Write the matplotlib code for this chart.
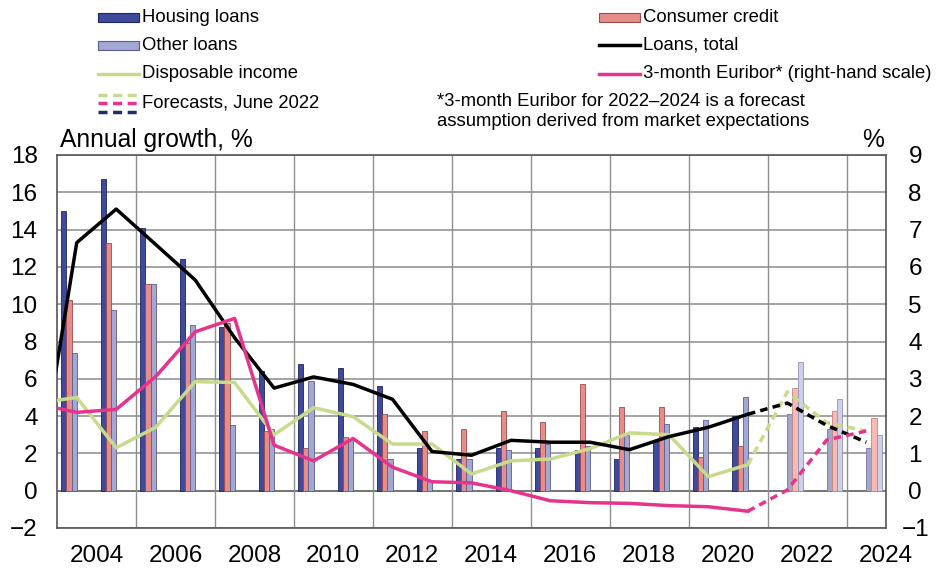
import numpy as np
import matplotlib.pyplot as plt
from matplotlib.patches import Rectangle
from matplotlib.lines import Line2D

plt.rcParams['font.family'] = ['Liberation Sans', 'DejaVu Sans']

# categories: 2004-2024, history up to 2021, forecasts 2022-2024
years = list(range(2004, 2025))
n_hist = 18

# bars, annual growth %
housing = [15.0, 16.7, 14.1, 12.4, 8.8, 6.4, 6.8, 6.6, 5.6, 2.3, 1.7, 2.3, 2.3, 2.2, 1.7, 2.6, 3.4, 4.0]
consumer = [10.2, 13.3, 11.1, 7.9, 9.0, 3.2, 2.3, 2.9, 4.1, 3.2, 3.3, 4.3, 3.7, 5.7, 4.5, 4.5, 1.8, 2.4]
other = [7.4, 9.7, 11.1, 8.9, 3.5, 3.3, 5.9, 2.7, 1.7, 0.6, 1.7, 2.2, 2.5, 2.4, 3.0, 3.6, 3.8, 5.0]
housing_fc = [4.1, 3.3, 2.3]
consumer_fc = [5.5, 4.3, 3.9]
other_fc = [6.9, 4.9, 3.0]

# lines, 2003-2021 (the 2003 point falls outside the axis)
loans_total = [0.3, 13.3, 15.1, 13.2, 11.3, 8.2, 5.5, 6.1, 5.7, 4.9, 2.1, 1.9, 2.7, 2.6, 2.6, 2.2, 2.9, 3.4, 4.1]
disp_income = [4.7, 5.0, 2.3, 3.4, 5.85, 5.8, 3.0, 4.45, 3.97, 2.5, 2.5, 0.9, 1.6, 1.7, 2.25, 3.1, 3.0, 0.75, 1.4]
euribor = [2.33, 2.10, 2.18, 3.06, 4.26, 4.62, 1.22, 0.80, 1.40, 0.63, 0.24, 0.21, 0.0, -0.27, -0.32, -0.34, -0.40, -0.43, -0.55]
# forecasts 2021-2024 (starting from last actual)
loans_total_fc = [4.1, 4.7, 3.5, 2.6]
disp_income_fc = [1.4, 5.3, 3.65, 3.2]
euribor_fc = [-0.55, 0.02, 1.36, 1.6]

c_housing, e_housing = '#3f4a9c', '#1e2560'
c_cons, e_cons = '#e88c8a', '#9c4a4a'
c_other, e_other = '#a3a7d4', '#5a5e8c'
c_housing_fc = '#a2a6c9'
c_cons_fc = '#f4bab5'
c_other_fc = '#ced0ea'
c_green = '#c8da8c'
c_pink = '#e6338c'

fig = plt.figure(figsize=(9.38, 5.73), dpi=100)
ax = fig.add_axes([57 / 938, 45 / 573, 829 / 938, 373 / 573])

x = np.arange(len(years))
w = 0.13
xh = x[:n_hist]
xf = x[n_hist:]

ax.bar(xh - 2.5 * w, housing, w, color=c_housing, edgecolor=e_housing, lw=0.6, zorder=2)
ax.bar(xh - 1.5 * w, consumer, w, color=c_cons, edgecolor=e_cons, lw=0.6, zorder=2)
ax.bar(xh - 0.5 * w, other, w, color=c_other, edgecolor=e_other, lw=0.6, zorder=2)
ax.bar(xf + 0.5 * w, housing_fc, w, color=c_housing_fc, edgecolor='#7478a0', lw=0.6, zorder=2)
ax.bar(xf + 1.5 * w, consumer_fc, w, color=c_cons_fc, edgecolor='#c08884', lw=0.6, zorder=2)
ax.bar(xf + 2.5 * w, other_fc, w, color=c_other_fc, edgecolor='#9092b8', lw=0.6, zorder=2)

xl = np.arange(-1, n_hist)
xlf = np.arange(n_hist - 1, len(years))
dash = (0, (2.2, 1.5))
ax.plot(xl, disp_income, color=c_green, lw=2.5, zorder=3)
ax.plot(xlf, disp_income_fc, color=c_green, lw=2.5, ls=dash, zorder=3)
ax.plot(xl, loans_total, color='black', lw=2.5, zorder=4)
ax.plot(xlf, loans_total_fc, color='black', lw=2.5, ls=dash, zorder=4)

ax.set_xlim(-0.5, len(years) - 0.5)
ax.set_ylim(-2, 18)
ax.set_yticks(range(-2, 19, 2))
ax.set_xticks(x[::2] + 0.5)
ax.set_xticklabels([str(y) for y in years[::2]])
ax.set_xticks(np.arange(1.5, len(years) - 1, 2), minor=True)
ax.tick_params(axis='both', which='both', length=0, labelsize=17.5)
ax.tick_params(axis='y', pad=14)
ax.tick_params(axis='x', pad=12)
ax.grid(axis='y', which='major', color='#8a8a8a', lw=1.1, zorder=0)
ax.grid(axis='x', which='minor', color='#8f8f8f', lw=1.0, zorder=0)
ax.axhline(0, color='black', lw=1.1, zorder=1)
for s in ax.spines.values():
    s.set_color('#555555')
    s.set_linewidth(1.2)

ax2 = ax.twinx()
ax2.plot(xl, euribor, color=c_pink, lw=2.5)
ax2.plot(xlf, euribor_fc, color=c_pink, lw=2.5, ls=dash)
ax2.set_ylim(-1, 9)
ax2.set_yticks(range(-1, 10))
ax2.tick_params(axis='y', length=0, labelsize=17.5, pad=21)
for lab in ax2.get_yticklabels():
    lab.set_horizontalalignment('center')
for s in ax2.spines.values():
    s.set_visible(False)

fig.text(60 / 938, 1 - 140 / 573, 'Annual growth, %', fontsize=17.7, va='center', ha='left')
fig.text(884 / 938, 1 - 140 / 573, '%', fontsize=17.7, va='center', ha='right')


# legend drawn by hand in pixel positions
def fx(px):
    return px / 938


def fy(py):
    return 1 - py / 573


def leg_rect(x0, yc, face, edge, label):
    fig.add_artist(Rectangle((fx(x0), fy(yc + 4.5)), 41 / 938, 9 / 573, facecolor=face,
                             edgecolor=edge, lw=0.8, transform=fig.transFigure))
    fig.text(fx(x0 + 44), fy(yc), label, fontsize=13.3, va='center', ha='left')


def leg_line(x0, yc, color, label):
    fig.add_artist(Line2D([fx(x0), fx(x0 + 41)], [fy(yc), fy(yc)], color=color, lw=2.5,
                          transform=fig.transFigure))
    fig.text(fx(x0 + 44), fy(yc), label, fontsize=13.3, va='center', ha='left')


leg_rect(98, 17, c_housing, e_housing, 'Housing loans')
leg_rect(98, 45, c_other, e_other, 'Other loans')
leg_line(98, 74, c_green, 'Disposable income')
for yy, col in [(94.5, c_green), (103, c_pink), (112, '#1f2d6e')]:
    fig.add_artist(Line2D([fx(98), fx(139)], [fy(yy), fy(yy)], color=col, lw=2.5,
                          ls=(0, (2.6, 1.6)), transform=fig.transFigure))
fig.text(fx(142), fy(103), 'Forecasts, June 2022', fontsize=13.3, va='center', ha='left')

leg_rect(599, 17, c_cons, e_cons, 'Consumer credit')
leg_line(599, 45, 'black', 'Loans, total')
leg_line(599, 74, c_pink, '3-month Euribor* (right-hand scale)')
fig.text(fx(437), fy(101), '*3-month Euribor for 2022\u20132024 is a forecast', fontsize=13.3,
         va='center', ha='left')
fig.text(fx(437), fy(122), 'assumption derived from market expectations', fontsize=13.3,
         va='center', ha='left')

fig.savefig('out.png', dpi=100)
